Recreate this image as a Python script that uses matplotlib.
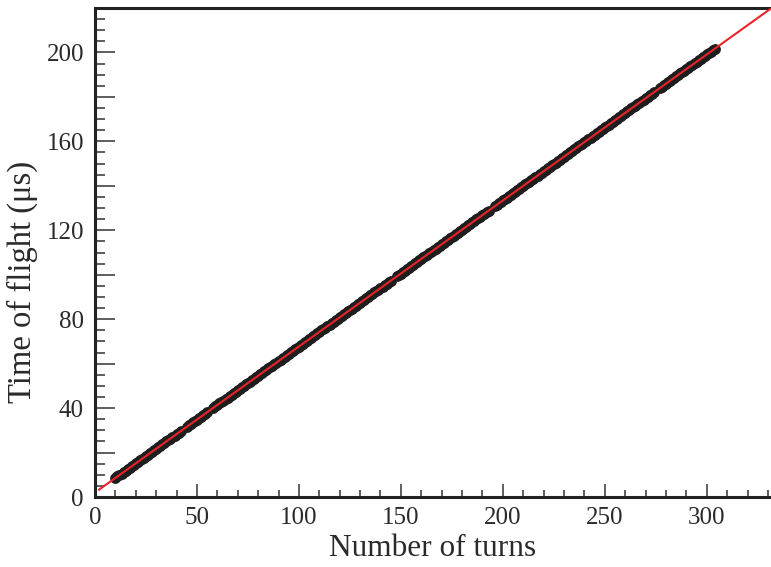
import numpy as np
import matplotlib

matplotlib.use("Agg")
import matplotlib.pyplot as plt
from matplotlib.ticker import MultipleLocator, FuncFormatter

# recorded turn ranges (first, last) - a few turns are missing between runs
turn_segments = [(10, 42), (45, 55), (58, 145), (148, 193), (196, 274), (277, 304)]

# linear fit of time of flight vs. turn number
period_us = 0.657
offset_us = 2.0
fit_range = (2.0, 340.0)

x_limits = (0.0, 331.5)
y_limits = (0.0, 220.0)
x_label_step = 50
y_label_step = 40

turns = np.concatenate([np.arange(a, b + 1) for a, b in turn_segments])
tof = offset_us + period_us * turns
fit_x = np.array(fit_range)
fit_y = offset_us + period_us * fit_x

plt.rcParams["font.family"] = ["Liberation Serif", "DejaVu Serif"]

fig = plt.figure(figsize=(7.71, 5.67), dpi=100)
ax = fig.add_axes([95 / 771, 70 / 567, 1 - 95 / 771, 489 / 567])

ax.plot(turns, tof, "o", color="#1e1e1e", markersize=7.8, markeredgewidth=0, zorder=2)
ax.plot(fit_x, fit_y, color="#e8232a", linewidth=1.5, zorder=3)

ax.set_xlim(*x_limits)
ax.set_ylim(*y_limits)

ax.xaxis.set_major_locator(MultipleLocator(x_label_step))
ax.xaxis.set_minor_locator(MultipleLocator(10))
ax.yaxis.set_major_locator(MultipleLocator(20))
ax.yaxis.set_minor_locator(MultipleLocator(5))
ax.yaxis.set_major_formatter(
    FuncFormatter(lambda v, _: f"{v:.0f}" if round(v) % y_label_step == 0 else "")
)

for side in ("left", "bottom", "top"):
    ax.spines[side].set_linewidth(2.2)
    ax.spines[side].set_color("#222222")
ax.spines["right"].set_visible(False)

ax.tick_params(axis="both", which="both", direction="in", colors="#333333",
               labelcolor="#2a2a2a", labelsize=18)
ax.tick_params(axis="x", which="major", length=9.4, width=1.1, pad=7)
ax.tick_params(axis="x", which="minor", length=5, width=1.1)
ax.tick_params(axis="y", which="major", length=14.4, width=1.1, pad=8)
ax.tick_params(axis="y", which="minor", length=7.2, width=1.1)

ax.set_xlabel("Number of turns", fontsize=22.5, color="#2a2a2a", labelpad=4)
ax.set_ylabel("Time of flight (μs)", fontsize=23.5, color="#2a2a2a")
ax.yaxis.set_label_coords(-0.084, 0.44)

fig.savefig("out.png", dpi=100)
